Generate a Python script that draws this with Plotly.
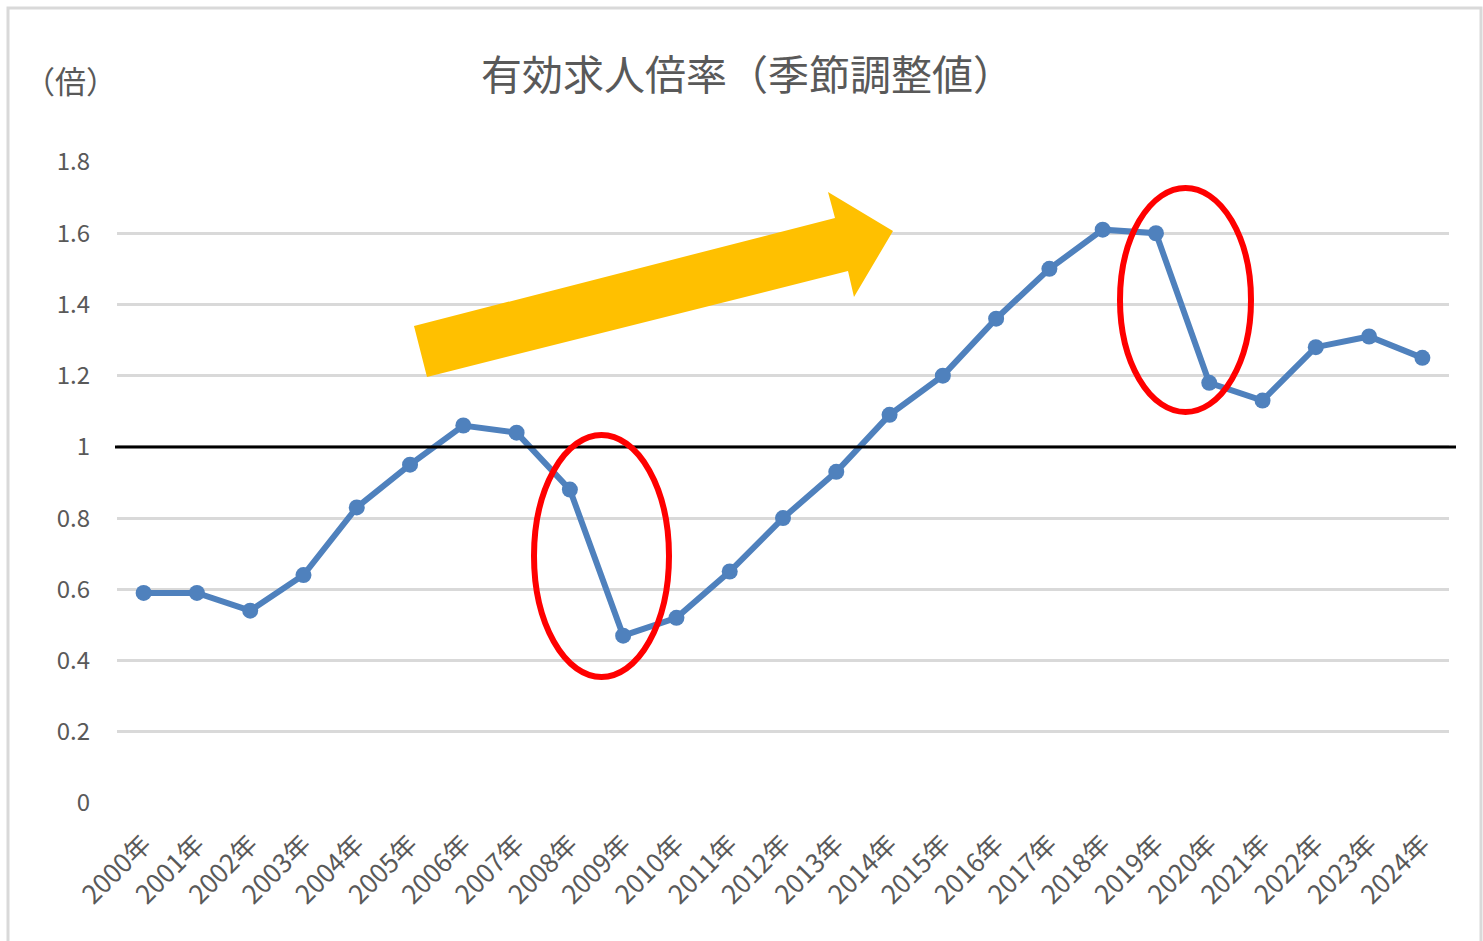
import plotly.graph_objects as go

# Annual jobs-to-applicants ratio (seasonally adjusted)
years = [f"{y}年" for y in range(2000, 2025)]
ratio = [0.59, 0.59, 0.54, 0.64, 0.83, 0.95, 1.06, 1.04, 0.88, 0.47,
         0.52, 0.65, 0.80, 0.93, 1.09, 1.20, 1.36, 1.50, 1.61, 1.60,
         1.18, 1.13, 1.28, 1.31, 1.25]
y_ticks = [0, 0.2, 0.4, 0.6, 0.8, 1.0, 1.2, 1.4, 1.6, 1.8]
y_tick_text = ["0", "0.2", "0.4", "0.6", "0.8", "1", "1.2", "1.4", "1.6", "1.8"]

W, H = 1483, 941
L, R, T, B = 117, 34, 162, 138
PW, PH = W - L - R, H - T - B

FONT = "Noto Sans CJK JP, Noto Sans, sans-serif"
GREY = "#595959"


def px(x):
    return (x - L) / PW


def py(y):
    return (H - B - y) / PH


fig = go.Figure()
fig.add_trace(go.Scatter(
    x=years, y=ratio, mode="lines+markers",
    line=dict(color="#4F81BD", width=6),
    marker=dict(color="#4F81BD", size=16),
    showlegend=False, hoverinfo="x+y",
))

shapes = []
# outer frame
shapes.append(dict(type="rect", xref="paper", yref="paper",
                   x0=px(8), x1=px(1481), y0=py(8), y1=py(945),
                   line=dict(color="#D9D9D9", width=3), layer="below"))
# reference line at 1.0
shapes.append(dict(type="line", xref="paper", yref="y",
                   x0=px(115), x1=px(1456), y0=1, y1=1,
                   line=dict(color="black", width=3)))
# upward-trend arrow
arrow_pts = [(414, 326), (835, 218), (828, 192), (893, 231),
             (854, 297), (848, 271), (427, 377)]
path = "M " + " L ".join(f"{px(a):.5f},{py(b):.5f}" for a, b in arrow_pts) + " Z"
shapes.append(dict(type="path", xref="paper", yref="paper", path=path,
                   fillcolor="#FFC000", line=dict(width=0)))
# highlight ellipses around the sharp drops
for x0, x1, y0, y1 in [(534, 669, 435, 677), (1120, 1251, 188, 412)]:
    shapes.append(dict(type="circle", xref="paper", yref="paper",
                       x0=px(x0), x1=px(x1), y0=py(y1), y1=py(y0),
                       line=dict(color="#FF0000", width=6)))

annotations = [
    dict(text="有効求人倍率（季節調整値）", xref="paper", yref="paper",
         x=px(747), y=py(72), showarrow=False,
         font=dict(family=FONT, size=41, color=GREY),
         xanchor="center", yanchor="middle"),
    dict(text="（倍）", xref="paper", yref="paper",
         x=px(70), y=py(80), showarrow=False,
         font=dict(family=FONT, size=31, color=GREY),
         xanchor="center", yanchor="middle"),
]

fig.update_layout(
    width=W, height=H,
    margin=dict(l=L, r=R, t=T, b=B),
    paper_bgcolor="white", plot_bgcolor="white",
    shapes=shapes, annotations=annotations,
    font=dict(family=FONT, color=GREY),
)
fig.update_xaxes(
    type="category", range=[-0.5, 24.5], tickangle=-45,
    tickfont=dict(family=FONT, size=26, color=GREY),
    showgrid=False, showline=False, ticks="", zeroline=False,
    ticklabelstandoff=20,
)
fig.update_yaxes(
    range=[0, 1.8], tickvals=y_ticks, ticktext=y_tick_text,
    tickfont=dict(family=FONT, size=24, color=GREY),
    showgrid=True, gridcolor="#D9D9D9", gridwidth=2.5,
    zeroline=False, showline=False, ticks="", ticklabelstandoff=26,
)

fig.write_html("out.html")
